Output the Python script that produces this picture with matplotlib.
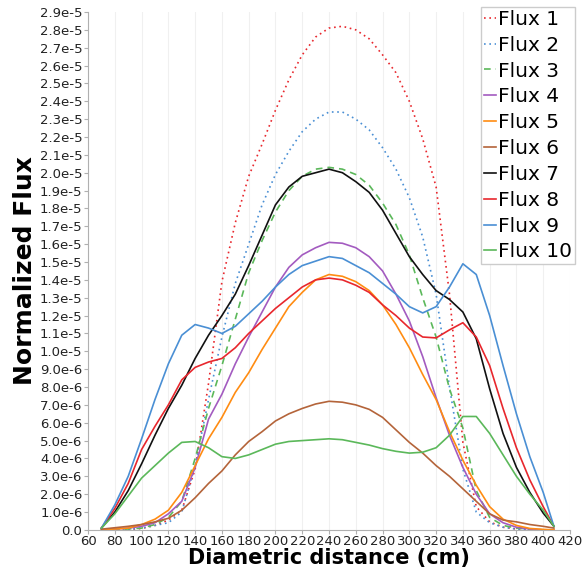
import numpy as np
import matplotlib
matplotlib.use("Agg")
import matplotlib.pyplot as plt
from matplotlib.ticker import FuncFormatter, MultipleLocator

# diametric positions (cm) and normalized flux values (units of 1e-6)
x = [70, 80, 90, 100, 110, 120, 130, 140, 150, 160, 170, 180, 190, 200,
     210, 220, 230, 240, 250, 260, 270, 280, 290, 300, 310, 320, 330,
     340, 350, 360, 370, 380, 390, 400, 408]
scale = 1e-6

flux1 = [0, 0, 0.02, 0.08, 0.25, 0.55, 1.1, 3.4, 8.2, 13.9, 17.2, 19.8, 21.6, 23.5,
         25.2, 26.6, 27.6, 28.1, 28.2, 28.0, 27.5, 26.6, 25.6, 24.0, 21.9, 19.2, 13.2,
         4.9, 1.3, 0.45, 0.15, 0.05, 0.02, 0, 0]
flux2 = [0, 0, 0.03, 0.1, 0.25, 0.4, 1.0, 3.6, 7.3, 10.8, 13.8, 16.0, 18.2, 19.9,
         21.2, 22.3, 23.0, 23.4, 23.4, 23.0, 22.4, 21.4, 20.2, 18.6, 16.4, 13.2, 8.0,
         3.4, 1.0, 0.4, 0.15, 0.05, 0.02, 0, 0]
flux3 = [0, 0, 0.05, 0.1, 0.3, 0.7, 1.6, 4.0, 6.8, 9.2, 11.8, 14.4, 16.2, 17.8,
         19.0, 19.8, 20.2, 20.3, 20.2, 19.9, 19.3, 18.3, 17.1, 15.4, 13.0, 10.8, 7.9,
         5.7, 2.2, 0.7, 0.25, 0.1, 0.03, 0, 0]
flux4 = [0, 0.05, 0.1, 0.2, 0.4, 0.9, 1.6, 3.5, 6.2, 7.6, 9.3, 10.8, 12.2, 13.6,
         14.7, 15.4, 15.8, 16.1, 16.05, 15.8, 15.3, 14.5, 13.2, 11.7, 9.7, 7.4, 5.3,
         3.5, 2.0, 0.9, 0.4, 0.15, 0.05, 0, 0]
flux5 = [0, 0.05, 0.1, 0.3, 0.6, 1.1, 2.1, 3.6, 5.1, 6.3, 7.7, 8.8, 10.1, 11.3,
         12.5, 13.3, 14.0, 14.3, 14.2, 13.9, 13.4, 12.6, 11.5, 10.2, 8.7, 7.3, 5.5,
         3.9, 2.5, 1.3, 0.6, 0.25, 0.08, 0.03, 0]
flux6 = [0.04, 0.12, 0.2, 0.3, 0.45, 0.65, 1.1, 1.8, 2.6, 3.3, 4.2, 4.95, 5.5, 6.1,
         6.5, 6.8, 7.05, 7.2, 7.15, 7.0, 6.75, 6.3, 5.6, 4.9, 4.3, 3.6, 3.0,
         2.3, 1.6, 0.9, 0.55, 0.45, 0.3, 0.2, 0.1]
flux7 = [0.1, 1.0, 2.2, 3.7, 5.3, 6.8, 8.1, 9.6, 10.9, 12.0, 13.2, 14.8, 16.5, 18.2,
         19.2, 19.8, 20.0, 20.2, 20.0, 19.5, 18.9, 17.9, 16.6, 15.3, 14.3, 13.4, 12.9,
         12.2, 10.7, 7.9, 5.4, 3.5, 2.1, 0.94, 0.2]
flux8 = [0.1, 1.2, 2.6, 4.5, 5.8, 7.0, 8.4, 9.1, 9.4, 9.6, 10.2, 11.0, 11.7, 12.4,
         13.0, 13.6, 14.0, 14.1, 14.0, 13.7, 13.3, 12.6, 12.0, 11.3, 10.8, 10.75, 11.2,
         11.6, 10.8, 9.2, 6.8, 4.6, 2.8, 1.3, 0.2]
flux9 = [0.1, 1.4, 3.0, 5.1, 7.3, 9.3, 10.9, 11.5, 11.3, 11.0, 11.4, 12.1, 12.8, 13.6,
         14.3, 14.8, 15.05, 15.3, 15.2, 14.8, 14.4, 13.8, 13.2, 12.5, 12.15, 12.5, 13.6,
         14.9, 14.3, 12.0, 9.2, 6.5, 4.1, 2.1, 0.2]
flux10 = [0.1, 0.9, 1.9, 2.9, 3.6, 4.3, 4.9, 4.95, 4.6, 4.1, 4.0, 4.2, 4.5, 4.8,
          4.95, 5.0, 5.05, 5.1, 5.05, 4.9, 4.75, 4.55, 4.4, 4.3, 4.35, 4.6, 5.3,
          6.35, 6.35, 5.4, 4.2, 3.0, 2.0, 1.1, 0.2]

series = [flux1, flux2, flux3, flux4, flux5, flux6, flux7, flux8, flux9, flux10]
labels = ["Flux %d" % i for i in range(1, 11)]
colors = ["#e8272d", "#4a8fd4", "#5bb85a", "#a35bc0", "#ff8c12",
          "#b4643a", "#111111", "#e8272d", "#4a8fd4", "#5bb85a"]
styles = [(0, (1, 2.2)), (0, (1, 2.2)), (0, (4, 3)), "-", "-",
          "-", "-", "-", "-", "-"]

fig = plt.figure(figsize=(5.87, 5.71), dpi=100)
ax = fig.add_axes([0.15, 0.072, 0.821, 0.907])

for ys, lab, c, ls in zip(series, labels, colors, styles):
    ax.plot(x, np.array(ys) * scale, color=c, linestyle=ls, linewidth=1.2, label=lab)

ax.set_xlim(60, 420)
ax.set_ylim(0, 2.9e-5)
ax.xaxis.set_major_locator(MultipleLocator(20))
ax.yaxis.set_major_locator(MultipleLocator(1e-6))


def yfmt(v, pos):
    if abs(v) < 1e-12:
        return "0.0"
    m, e = ("%.1e" % v).split("e")
    return "%se%d" % (m, int(e))


ax.yaxis.set_major_formatter(FuncFormatter(yfmt))
ax.grid(axis="x", color="#f0f0f0", linewidth=0.8)
ax.set_axisbelow(True)
for s in ["top", "right"]:
    ax.spines[s].set_visible(False)
for s in ["left", "bottom"]:
    ax.spines[s].set_color("#b0b0b0")
ax.tick_params(axis="both", colors="#b0b0b0", labelcolor="#222222",
               labelsize=9.5, length=3, pad=1)

ax.set_xlabel("Diametric distance (cm)", fontsize=15, fontweight="bold", labelpad=0)
ax.set_ylabel("Normalized Flux", fontsize=18, fontweight="bold", labelpad=2)

leg = ax.legend(loc="upper right", bbox_to_anchor=(1.01, 1.01), fontsize=14.5,
                handlelength=0.6, handletextpad=0.1, labelspacing=0.34,
                borderpad=0.15, borderaxespad=0, fancybox=False, framealpha=1)
leg.get_frame().set_edgecolor("#cccccc")
leg.get_frame().set_linewidth(1.0)

fig.savefig("out.png", dpi=100)
